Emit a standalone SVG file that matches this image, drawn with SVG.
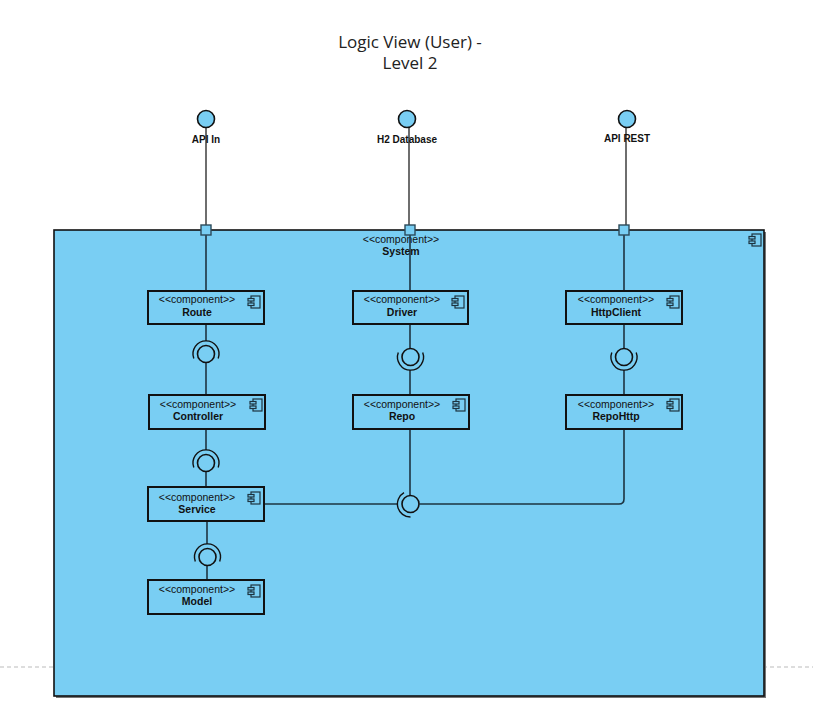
<svg xmlns="http://www.w3.org/2000/svg" width="813" height="717" viewBox="0 0 813 717">
<defs>
<style>
.title{font-family:"Open Sans","Liberation Sans",sans-serif;font-size:17px;fill:#222;text-anchor:middle}
.lbl{font-family:"Liberation Sans",Arial,sans-serif;font-size:10px;font-weight:bold;fill:#111;text-anchor:middle}
.st{font-family:"Liberation Sans",Arial,sans-serif;font-size:10.5px;fill:#111;text-anchor:middle}
.nm{font-family:"Liberation Sans",Arial,sans-serif;font-size:10.5px;font-weight:bold;fill:#111;text-anchor:middle}
.comp{fill:#79CEF3;stroke:#111;stroke-width:2}
.ball{fill:#79CEF3;stroke:#111;stroke-width:1.6}
.sock{fill:none;stroke:#111;stroke-width:1.4}
.wire{fill:none;stroke:#1d3440;stroke-width:1.6}
.ext{fill:none;stroke:#6e6e6e;stroke-width:2}
.port{fill:#79CEF3;stroke:#2c4a5a;stroke-width:1.4}
.ico{fill:#79CEF3;stroke:#1d3440;stroke-width:1.2}
</style>
<g id="icon">
<rect class="ico" x="3" y="0" width="9" height="12"/>
<rect class="ico" x="0" y="2.5" width="6" height="2.5"/>
<rect class="ico" x="0" y="7" width="6" height="2.5"/>
</g>
</defs>
<rect width="813" height="717" fill="#fff"/>
<line x1="0" y1="667" x2="813" y2="667" stroke="#bbb" stroke-width="1" stroke-dasharray="4,3"/>
<text class="title" x="410" y="48">Logic View (User) -</text>
<text class="title" x="410" y="69">Level 2</text>

<g id="System">
<rect x="56" y="232" width="710" height="466" fill="#777"/>
<rect x="54" y="230" width="710" height="466" fill="#79CEF3" stroke="#111" stroke-width="1.6"/>
<use href="#icon" x="749" y="234"/>
<text class="st" x="401" y="243">&lt;&lt;component&gt;&gt;</text>
<text class="nm" x="401" y="255">System</text>
</g>

<g id="connectors">
<line class="ext" x1="206" y1="128" x2="206" y2="225"/>
<line class="ext" x1="409" y1="128" x2="409" y2="225"/>
<line class="ext" x1="626" y1="128" x2="626" y2="225"/>
<line class="wire" x1="206" y1="235" x2="206" y2="291"/>
<line class="wire" x1="410" y1="235" x2="410" y2="291"/>
<line class="wire" x1="624" y1="235" x2="624" y2="291"/>
<line class="wire" x1="206" y1="324" x2="206" y2="341"/>
<line class="wire" x1="206" y1="363" x2="206" y2="395"/>
<line class="wire" x1="410" y1="324" x2="410" y2="348"/>
<line class="wire" x1="410" y1="370" x2="410" y2="395"/>
<line class="wire" x1="624" y1="324" x2="624" y2="348"/>
<line class="wire" x1="624" y1="370" x2="624" y2="395"/>
<line class="wire" x1="206" y1="429" x2="206" y2="450"/>
<line class="wire" x1="206" y1="472" x2="206" y2="487"/>
<line class="wire" x1="207" y1="522" x2="207" y2="544"/>
<line class="wire" x1="207" y1="566" x2="207" y2="580"/>
<line class="wire" x1="410" y1="429" x2="410" y2="495"/>
<line class="wire" x1="264" y1="504" x2="397" y2="504"/>
<path class="wire" d="M419.5,504 H619 Q624,504 624,499 V429"/>
</g>

<g id="API_In">
<circle class="ball" cx="206" cy="119" r="8.5"/>
<text class="lbl" x="206" y="143">API In</text>
<rect class="port" x="201" y="225" width="10" height="10"/>
</g>
<g id="H2_Database">
<circle class="ball" cx="407" cy="119" r="8.5"/>
<text class="lbl" x="407" y="143">H2 Database</text>
<rect class="port" x="405" y="225" width="10" height="10"/>
</g>
<g id="API_REST">
<circle class="ball" cx="627" cy="119" r="8.5"/>
<text class="lbl" x="627" y="142">API REST</text>
<rect class="port" x="619" y="225" width="10" height="10"/>
</g>

<g id="Route">
<rect class="comp" x="148" y="291" width="116" height="33"/>
<use href="#icon" x="248" y="296"/>
<text class="st" x="197" y="303">&lt;&lt;component&gt;&gt;</text>
<text class="nm" x="197" y="316">Route</text>
</g>
<g id="Driver">
<rect class="comp" x="353" y="291" width="115" height="33"/>
<use href="#icon" x="452" y="296"/>
<text class="st" x="402" y="303">&lt;&lt;component&gt;&gt;</text>
<text class="nm" x="402" y="316">Driver</text>
</g>
<g id="HttpClient">
<rect class="comp" x="566" y="291" width="116" height="33"/>
<use href="#icon" x="667" y="296"/>
<text class="st" x="616" y="303">&lt;&lt;component&gt;&gt;</text>
<text class="nm" x="616" y="316">HttpClient</text>
</g>
<g id="Controller">
<rect class="comp" x="149" y="395" width="116" height="34"/>
<use href="#icon" x="250" y="399"/>
<text class="st" x="198" y="408">&lt;&lt;component&gt;&gt;</text>
<text class="nm" x="198" y="420">Controller</text>
</g>
<g id="Repo">
<rect class="comp" x="353" y="395" width="116" height="34"/>
<use href="#icon" x="453" y="399"/>
<text class="st" x="402" y="408">&lt;&lt;component&gt;&gt;</text>
<text class="nm" x="402" y="420">Repo</text>
</g>
<g id="RepoHttp">
<rect class="comp" x="566" y="395" width="116" height="34"/>
<use href="#icon" x="667" y="399"/>
<text class="st" x="616" y="408">&lt;&lt;component&gt;&gt;</text>
<text class="nm" x="616" y="420">RepoHttp</text>
</g>
<g id="Service">
<rect class="comp" x="148" y="487" width="116" height="34"/>
<use href="#icon" x="248" y="492"/>
<text class="st" x="197" y="501">&lt;&lt;component&gt;&gt;</text>
<text class="nm" x="197" y="513">Service</text>
</g>
<g id="Model">
<rect class="comp" x="148" y="580" width="116" height="34"/>
<use href="#icon" x="248" y="585"/>
<text class="st" x="197" y="593">&lt;&lt;component&gt;&gt;</text>
<text class="nm" x="197" y="605">Model</text>
</g>

<g id="IRoute">
<path class="sock" d="M193.8,358.4 A13,13 0 1 1 218.2,358.4"/>
<circle class="ball" cx="206" cy="354" r="8.5"/>
</g>
<g id="IDriver">
<path class="sock" d="M398.3,352.6 A13,13 0 1 0 422.7,352.6"/>
<circle class="ball" cx="410.5" cy="357" r="8.5"/>
</g>
<g id="IHttpClient">
<path class="sock" d="M611.8,352.6 A13,13 0 1 0 636.2,352.6"/>
<circle class="ball" cx="624" cy="357" r="8.5"/>
</g>
<g id="IController">
<path class="sock" d="M193.8,467.4 A13,13 0 1 1 218.2,467.4"/>
<circle class="ball" cx="206" cy="463" r="8.5"/>
</g>
<g id="IService">
<path class="sock" d="M195.3,561.4 A13,13 0 1 1 219.7,561.4"/>
<circle class="ball" cx="207.5" cy="557" r="8.5"/>
</g>
<g id="IRepo">
<path class="sock" d="M404,492.7 A13,13 0 0 0 410.5,517"/>
<circle class="ball" cx="410.5" cy="504" r="8.5"/>
</g>
</svg>
